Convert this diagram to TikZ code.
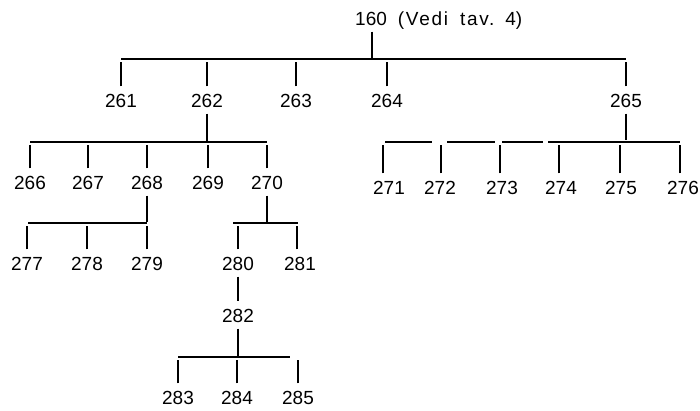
\documentclass[tikz,border=0pt]{standalone}
\usepackage{fontspec}
\setmainfont{Liberation Sans}
\begin{document}
\begin{tikzpicture}[x=1pt,y=-1pt,
  lbl/.style={font=\fontsize{19}{19}\selectfont, inner xsep=0pt, inner ysep=6.5pt, text height=14pt, text depth=0pt},
  ln/.style={line width=1.8pt}]
\useasboundingbox (0,0) rectangle (700,410);
% labels
\node[lbl, anchor=west] (n160) at (355,18) {160\hspace{11pt}{\addfontfeatures{LetterSpace=9}(Vedi}\hspace{12pt}{\addfontfeatures{LetterSpace=9}tav.}\hspace{11pt}4)};
\node[lbl] (n261) at (121,100) {261};
\node[lbl] (n262) at (207,100) {262};
\node[lbl] (n263) at (296,100) {263};
\node[lbl] (n264) at (387,100) {264};
\node[lbl] (n265) at (626,100) {265};
\node[lbl] (n266) at (30,182) {266};
\node[lbl] (n267) at (88,182) {267};
\node[lbl] (n268) at (147,182) {268};
\node[lbl] (n269) at (208,182) {269};
\node[lbl] (n270) at (267,182) {270};
\node[lbl] (n271) at (389,187) {271};
\node[lbl] (n272) at (440,187) {272};
\node[lbl] (n273) at (502,187) {273};
\node[lbl] (n274) at (561,187) {274};
\node[lbl] (n275) at (621,187) {275};
\node[lbl] (n276) at (683,187) {276};
\node[lbl] (n277) at (27,263) {277};
\node[lbl] (n278) at (87,263) {278};
\node[lbl] (n279) at (147,263) {279};
\node[lbl] (n280) at (238,263) {280};
\node[lbl] (n281) at (300,263) {281};
\node[lbl] (n282) at (238,315) {282};
\node[lbl] (n283) at (178,397) {283};
\node[lbl] (n284) at (237,397) {284};
\node[lbl] (n285) at (298,397) {285};
% bus heights
\coordinate (b0) at (0,59);
\coordinate (b1) at (0,142);
\coordinate (b2) at (0,142);
\coordinate (b3) at (0,223);
\coordinate (b4) at (0,223);
\coordinate (b6) at (0,357);
\coordinate (s160) at ([xshift=17pt]n160.south west);
% 160 -> 261..265
\draw[ln] (s160) -- (s160 |- b0);
\draw[ln] (n261 |- b0) -- (n265 |- b0);
\foreach \c in {n261,n262,n263,n264,n265}
  \draw[ln] (\c.north) -- ([yshift=-3pt]\c |- b0);
% 262 -> 266..270
\draw[ln] (n262.south) -- (n262 |- b1);
\draw[ln] (n266 |- b1) -- (n270 |- b1);
\foreach \c in {n266,n267,n268,n269,n270}
  \draw[ln] (\c.north) -- ([yshift=-3pt]\c |- b1);
% 265 -> 271..276
\draw[ln] (n265.south) -- ([yshift=2pt]n265 |- b2);
\draw[ln, dash pattern=on 47pt off 15pt on 48pt off 7pt on 41pt off 5pt on 140pt off 10pt]
  ([xshift=-4pt]n271 |- b2) -- ([xshift=-3pt]n276 |- b2);
\foreach \c/\d in {n271/-6,n272/1,n273/-2,n274/-2,n275/-1,n276/-3}
  \draw[ln] ([xshift=\d pt]\c.north) -- ([xshift=\d pt, yshift=-3pt]\c.north |- b2);
% 268 -> 277..279
\draw[ln] (n268.south) -- ([yshift=1pt]n268 |- b3);
\draw[ln] ([xshift=1pt]n277 |- b3) -- (n279 |- b3);
\foreach \c in {n277,n278,n279}
  \draw[ln] (\c.north) -- ([yshift=-3pt]\c |- b3);
% 270 -> 280, 281
\draw[ln] (n270.south) -- ([yshift=1pt]n270 |- b4);
\draw[ln] ([xshift=-5pt]n280 |- b4) -- ([xshift=-2pt]n281 |- b4);
\draw[ln] (n280.north) -- ([yshift=-3pt]n280 |- b4);
\draw[ln] ([xshift=-3pt]n281.north) -- ([xshift=-3pt,yshift=-3pt]n281 |- b4);
% 280 -> 282
\draw[ln] (n280.south) -- (n282.north);
% 282 -> 283..285
\draw[ln] (n282.south) -- (n282 |- b6);
\draw[ln] (n283 |- b6) -- ([xshift=-8pt]n285 |- b6);
\foreach \c in {n283,n284,n285}
  \draw[ln] (\c.north) -- ([yshift=-3pt]\c |- b6);
\end{tikzpicture}
\end{document}
